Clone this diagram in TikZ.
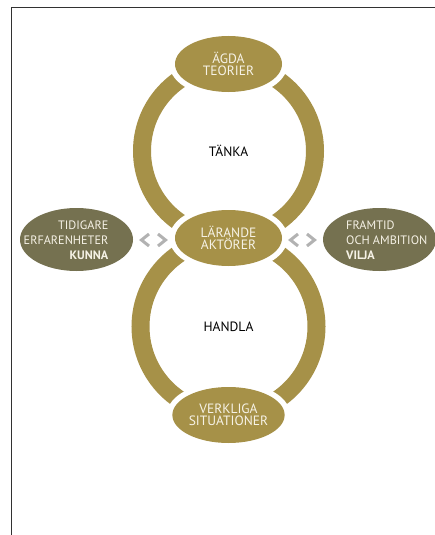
\documentclass[tikz,border=0pt]{standalone}
\usepackage{fontspec}
\setmainfont{PT Sans}
\usetikzlibrary{shapes.geometric}
\definecolor{gold}{RGB}{166,145,72}
\definecolor{olive}{RGB}{117,113,80}
\definecolor{goldtext}{RGB}{246,242,230}
\definecolor{chev}{RGB}{178,178,178}
\definecolor{framecol}{RGB}{50,50,50}
\begin{document}
\begin{tikzpicture}[x=1pt,y=-1pt,
  ring/.style={draw=gold, line width=18pt},
  goldell/.style={ellipse, fill=gold, minimum width=107pt, minimum height=56pt,
    inner sep=0pt, outer sep=0pt, text=goldtext, align=center,
    font=\fontsize{13.5}{12}\selectfont,
    preaction={draw=white, line width=11pt}},
  sideell/.style={ellipse, fill=olive, minimum width=113pt, minimum height=63pt, inner sep=0pt},
  sidetext/.style={text=goldtext, inner sep=0pt, font=\fontsize{12.2}{15}\selectfont},
  label/.style={text=black, inner sep=0pt, font=\fontsize{13.5}{14}\selectfont},
  chevron/.style={draw=chev, line width=3pt, miter limit=10},
  framestyle/.style={draw=framecol, line width=1.3pt}]
\useasboundingbox (0,0) rectangle (435,535);
\draw[framestyle] (11.5,535) -- (11.5,7.5) -- (435,7.5);
\coordinate (topc) at (228.5,151);
\coordinate (botc) at (228.5,326.5);
\draw[ring] (topc) circle[radius=86.5pt];
\draw[ring] (botc) circle[radius=88pt];
\node[goldell] (agda) at (228.5,64) {ÄGDA\\TEORIER};
\node[goldell] (larande) at (228.5,238) {LÄRANDE\\AKTÖRER};
\node[goldell] (verk) at (228.5,415) {VERKLIGA\\SITUATIONER};
\node[label] (tanka) at (topc) {TÄNKA};
\node[label] (handla) at (botc) {HANDLA};
\node[sideell] (tid) at (76.5,239.5) {};
\node[sideell] (fram) at (379.5,239.5) {};
\node[sidetext, anchor=east, align=right] (tidtxt) at (108.5,240.5) {TIDIGARE\\ERFARENHETER\\\textbf{KUNNA}};
\node[sidetext, anchor=west, align=left] (framtxt) at (346,240.5) {FRAMTID\\OCH AMBITION\\\textbf{VILJA}};
\draw[chevron] (149,234) -- (141.5,240) -- (149,246);
\draw[chevron] (158,234) -- (165.5,240) -- (158,246);
\draw[chevron] (298,234) -- (290.5,240) -- (298,246);
\draw[chevron] (307,234) -- (314.5,240) -- (307,246);
\end{tikzpicture}
\end{document}
